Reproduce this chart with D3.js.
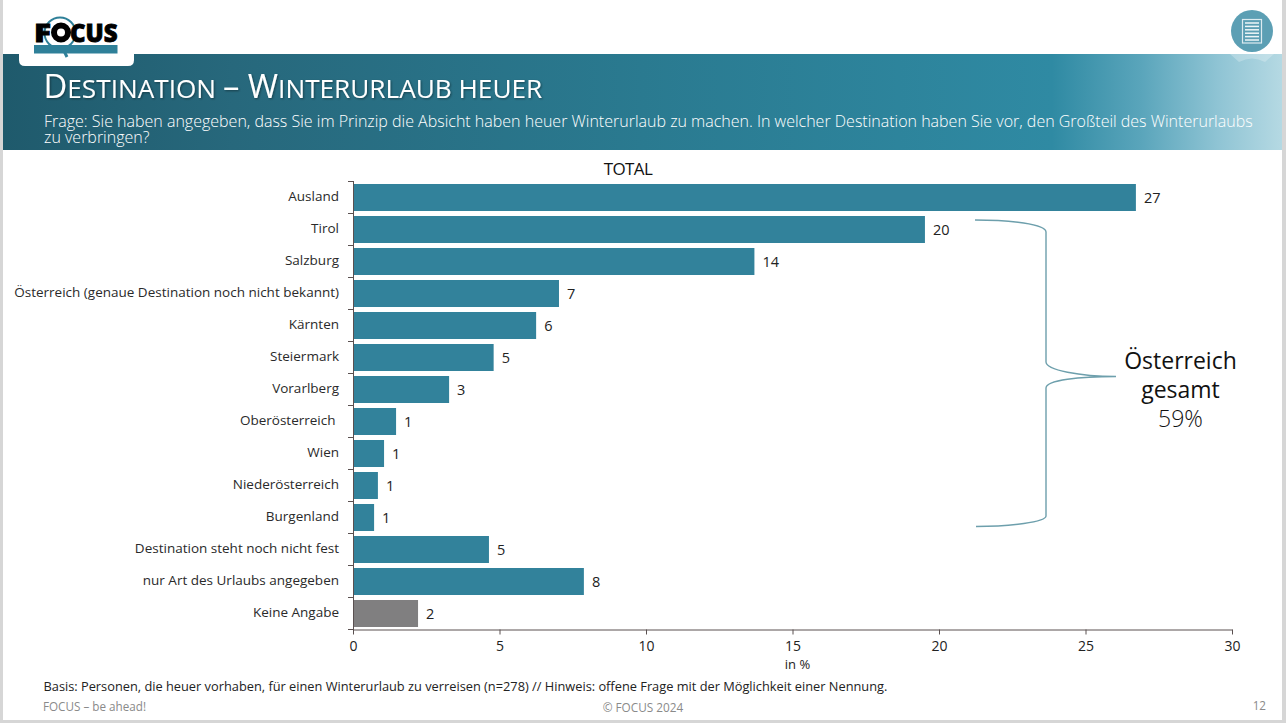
<!DOCTYPE html>
<html><head><meta charset="utf-8">
<script src="https://cdn.jsdelivr.net/npm/d3@7"></script>
<style>
html,body{margin:0;padding:0;background:#fff;overflow:hidden}
svg{display:block}
text{font-family:"Open Sans",sans-serif}
</style></head><body>
<svg id="c" width="1286" height="723"></svg>
<script>
const categories=["Ausland","Tirol","Salzburg","Österreich (genaue Destination noch nicht bekannt)","Kärnten","Steiermark","Vorarlberg","Oberösterreich ","Wien","Niederösterreich","Burgenland","Destination steht noch nicht fest","nur Art des Urlaubs angegeben","Keine Angabe"];
const values=[26.72,19.52,13.7,7.03,6.25,4.8,3.28,1.47,1.06,0.85,0.72,4.64,7.88,2.22];
const valueLabels=["27","20","14","7","6","5","3","1","1","1","1","5","8","2"];
const xTicks=[0,5,10,15,20,25,30];
const greyCategories=["Keine Angabe"];
const titleSmallCaps=[["D",32.8],["ESTINATION ",26.2],["– ",32.8],["W",32.8],["INTERURLAUB HEUER",26.2]];
const questionLines=["Frage: Sie haben angegeben, dass Sie im Prinzip die Absicht haben heuer Winterurlaub zu machen. In welcher Destination haben Sie vor, den Großteil des Winterurlaubs","zu verbringen?"];
const calloutLines=["Österreich","gesamt","59%"];
const basisText="Basis: Personen, die heuer vorhaben, für einen Winterurlaub zu verreisen (n=278) // Hinweis: offene Frage mit der Möglichkeit einer Nennung.";

const svg=d3.select("#c");
const defs=svg.append("defs");
const hg=defs.append("linearGradient").attr("id","hg");
[[0,"#1f5a6c"],[.18,"#27687c"],[.5,"#2a7a90"],[.82,"#2f8aa3"],[.89,"#5aa5bb"],[.95,"#8fc4d4"],[1,"#b5d9e3"]]
 .forEach(s=>hg.append("stop").attr("offset",s[0]).attr("stop-color",s[1]));
const sh=defs.append("filter").attr("id","ts").attr("x","-5%").attr("y","-20%").attr("width","110%").attr("height","150%");
sh.append("feDropShadow").attr("dx",1).attr("dy",1).attr("stdDeviation",1).attr("flood-color","#000").attr("flood-opacity",.4);

// slide frame
svg.append("rect").attr("width",1286).attr("height",723).attr("fill","#d6d6d6");
svg.append("rect").attr("x",3).attr("y",0).attr("width",1279).attr("height",720).attr("fill","#fff");

// header band
svg.append("rect").attr("x",3).attr("y",54).attr("width",1279).attr("height",96).attr("fill","url(#hg)");

// logo tab
svg.append("path").attr("d","M19 54H134V60Q134 66 128 66H25Q19 66 19 60Z").attr("fill","#fff");
const logo=svg.append("g");
logo.append("line").attr("x1",63).attr("y1",49).attr("x2",67).attr("y2",57).attr("stroke","#2f8099").attr("stroke-width",3);
logo.append("circle").attr("cx",60).attr("cy",33).attr("r",15.500).attr("fill","#fff").attr("stroke","#2f8099").attr("stroke-width",2);
logo.append("rect").attr("x",34).attr("y",45).attr("width",83.500).attr("height",8.500).attr("fill","#2f8099");
logo.append("circle").attr("cx",61).attr("cy",32.500).attr("r",7).attr("fill","#fff").attr("stroke","#000").attr("stroke-width",6);
logo.append("text").attr("x",34).attr("y",42).attr("font-size",24).attr("font-weight",800).attr("fill","#000")
  .attr("textLength",17).attr("lengthAdjust","spacingAndGlyphs").attr("stroke","#000").attr("stroke-width",.8).text("F");
logo.append("text").attr("x",70).attr("y",42).attr("font-size",24).attr("font-weight",800).attr("fill","#000")
  .attr("textLength",47.500).attr("lengthAdjust","spacingAndGlyphs").attr("stroke","#000").attr("stroke-width",.8).text("CUS");

// icon
svg.append("path").attr("d","M1230 54H1274L1265 62Q1252 55 1239 62Z").attr("fill","#fff").attr("opacity",.25);
svg.append("circle").attr("cx",1252).attr("cy",31).attr("r",21).attr("fill","#5c9fb4");
const ic=svg.append("g");
ic.append("rect").attr("x",1242.5).attr("y",19.5).attr("width",19).attr("height",23.5).attr("fill","none").attr("stroke","#dcebf0").attr("stroke-width",1.2);
d3.range(6).forEach(i=>ic.append("line").attr("x1",1245).attr("x2",1259).attr("y1",23+i*3.4).attr("y2",23+i*3.4).attr("stroke","#eef6f8").attr("stroke-width",1.5));

// title
const t=svg.append("text").attr("x",43.5).attr("y",98).attr("fill","#fff").attr("filter","url(#ts)");
titleSmallCaps.forEach(p=>t.append("tspan").attr("font-size",p[1]).text(p[0]));
svg.selectAll(".q").data(questionLines).join("text").attr("class","q")
  .attr("x",44).attr("y",(d,i)=>127+i*16).attr("font-size",16).attr("font-weight",300).attr("fill","#fff").text(d=>d);

// chart
const x=d3.scaleLinear().domain([0,30]).range([353,1232]);
const y=d3.scaleBand().domain(categories).range([181.5,629.5]).paddingInner(.156).paddingOuter(.078);

svg.append("text").attr("x",628).attr("y",175).attr("text-anchor","middle").attr("font-size",17).attr("letter-spacing","-.6").attr("fill","#111").text("TOTAL");

svg.selectAll(".bar").data(categories).join("rect").attr("class","bar")
  .attr("x",x(0)).attr("y",d=>y(d)).attr("width",(d,i)=>x(values[i])-x(0)).attr("height",y.bandwidth())
  .attr("fill",d=>greyCategories.includes(d)?"#807f80":"#32829b");

svg.selectAll(".vl").data(categories).join("text").attr("class","vl")
  .attr("x",(d,i)=>x(values[i])+8).attr("y",d=>y(d)+y.bandwidth()/2+5.5).attr("font-size",14.5).attr("fill","#222")
  .text((d,i)=>valueLabels[i]);

svg.selectAll(".cl").data(categories).join("text").attr("class","cl")
  .attr("x",339).attr("y",d=>y(d)+y.bandwidth()/2+3.5).attr("text-anchor","end").attr("font-size",13.5).attr("fill","#2a2a2a")
  .style("white-space","pre").text(d=>d);

// y axis line + ticks between bands
const yl=svg.append("g").attr("stroke","#5a5050").attr("stroke-width",1);
yl.append("line").attr("x1",353.5).attr("x2",353.5).attr("y1",181).attr("y2",630);
d3.range(categories.length+1).forEach(i=>{const yy=181.5+i*32;
  yl.append("line").attr("x1",348).attr("x2",353).attr("y1",yy).attr("y2",yy);});

const ax=svg.append("g").attr("transform","translate(0,629.5)")
  .call(d3.axisBottom(x).tickValues(xTicks).tickSize(5).tickPadding(7).tickSizeOuter(0));
ax.select(".domain").attr("stroke","#5a5050");
ax.selectAll("line").attr("stroke","#5a5050");
ax.selectAll("text").attr("font-size",14).attr("fill","#222").style("font-family",'"Open Sans",sans-serif');
svg.append("text").attr("x",797.5).attr("y",669).attr("text-anchor","middle").attr("font-size",13).attr("fill","#222").text("in %");

// bracket
svg.append("path").attr("fill","none").attr("stroke","#6d9fac").attr("stroke-width",1.4)
  .attr("d","M975 220C1010 220 1046 224 1046 232V362C1046 370 1080 376.500 1116 376.500C1080 376.500 1046 380 1046 388V516C1046 522 1010 526.500 976 526.500");
svg.selectAll(".co").data(calloutLines).join("text").attr("class","co")
  .attr("x",1180.5).attr("y",(d,i)=>369+i*29).attr("text-anchor","middle").attr("font-size",23)
  .attr("font-weight",(d,i)=>i==2?300:400).attr("fill","#111").text(d=>d);

// footer
svg.append("text").attr("x",43.5).attr("y",691).attr("font-size",12.8).attr("fill","#222").text(basisText);
svg.append("text").attr("x",43).attr("y",711).attr("font-size",11.7).attr("fill","#8a8a8a").text("FOCUS – be ahead!");
svg.append("text").attr("x",643).attr("y",712).attr("text-anchor","middle").attr("font-size",11.8).attr("fill","#8a8a8a").text("© FOCUS 2024");
svg.append("text").attr("x",1266).attr("y",710).attr("text-anchor","end").attr("font-size",11.7).attr("fill","#8a8a8a").text("12");
</script></body></html>
